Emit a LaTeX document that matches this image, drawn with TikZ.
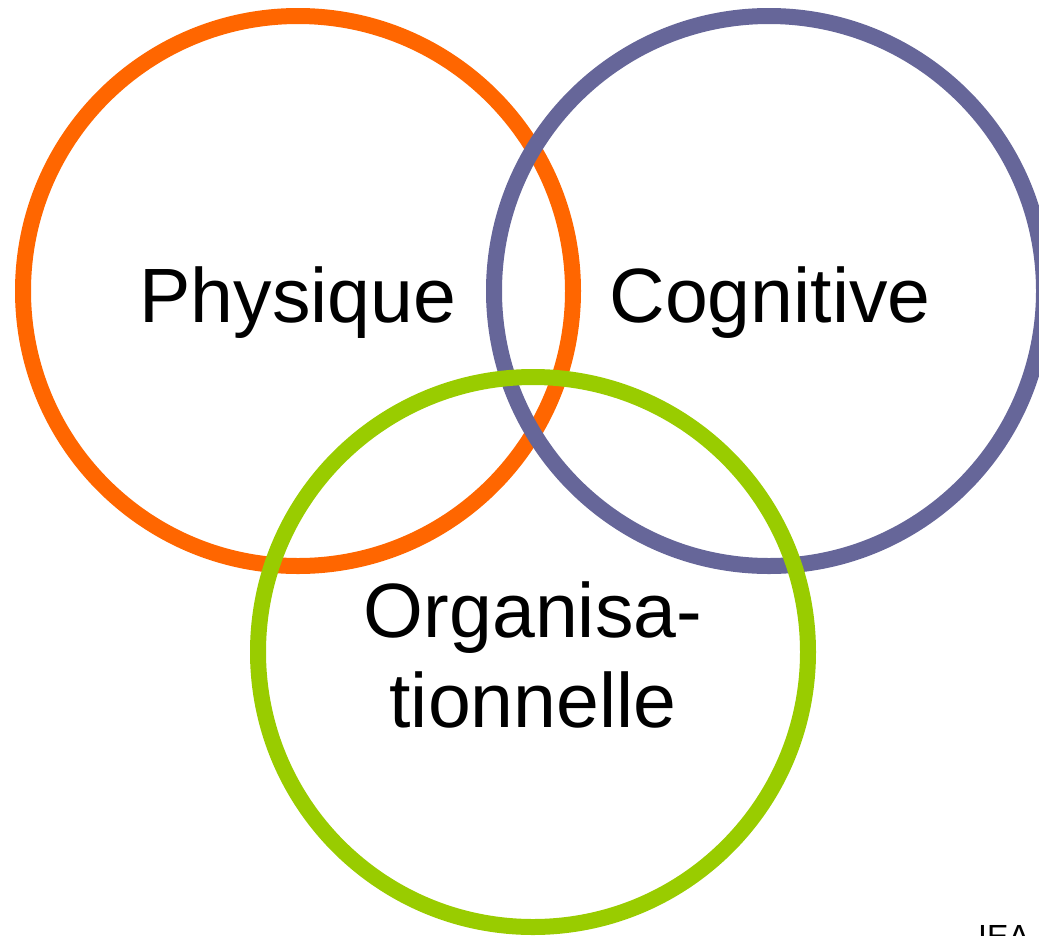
\documentclass[tikz,border=0pt]{standalone}
\usepackage{fontspec}
\setmainfont{Liberation Sans}
\definecolor{physorange}{HTML}{FF6600}
\definecolor{cogpurple}{HTML}{666699}
\definecolor{orggreen}{HTML}{99CC00}
\begin{document}
\begin{tikzpicture}[x=1pt,y=-1pt,
  ring/.style={line width=16pt},
  label/.style={font=\fontsize{77}{90}\selectfont, anchor=base, inner sep=0pt},
  source/.style={font=\fontsize{32}{36}\selectfont, anchor=north west, inner sep=0pt}]
  \useasboundingbox (0,0) rectangle (1039,935);
  \clip (0,0) rectangle (1039,935);
  % the three domains, drawn in stacking order
  \draw[ring, physorange] (298,291) circle[radius=275];
  \draw[ring, cogpurple] (769,291) circle[radius=275];
  \draw[ring, orggreen] (533,652) circle[radius=275];
  % labels
  \node[label] (phys) at (298,322) {Physique};
  \node[label] (cog) at (770,322) {Cognitive};
  \node[label] (org1) at (533,637) {Organisa-};
  \node[label] (org2) at (533,727) {tionnelle};
  \node[source] (iea) at (978,925) {IEA};
\end{tikzpicture}
\end{document}
